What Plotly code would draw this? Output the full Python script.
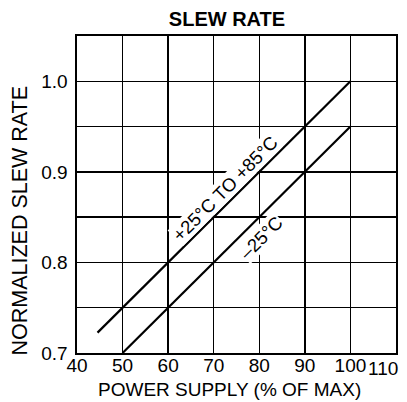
import plotly.graph_objects as go

# Data
supply_25_85 = [44.5, 100]
slew_25_85 = [0.7225, 1.0]
supply_m25 = [50, 100]
slew_m25 = [0.70, 0.95]
x_ticks = [40, 50, 60, 70, 80, 90, 100]
x_last_tick = 110
y_ticks = [0.7, 0.8, 0.9, 1.0]
y_ticklabels = ["0.7", "0.8", "0.9", "1.0"]

FONT = "Liberation Sans, Arial, sans-serif"
TICK_FS = 19
LBL_FS = 18.5

L, R, T, B = 77, 11, 36, 49
W, H = 407, 402
PW, PH = W - L - R, H - T - B


def px_to_paper_x(px):
    return (px - L) / PW


def px_to_paper_y(py):
    return (H - B - py) / PH


fig = go.Figure()
fig.add_trace(go.Scatter(x=supply_25_85, y=slew_25_85, mode="lines",
                         line=dict(color="black", width=2.2), showlegend=False,
                         hoverinfo="skip"))
fig.add_trace(go.Scatter(x=supply_m25, y=slew_m25, mode="lines",
                         line=dict(color="black", width=2.2), showlegend=False,
                         hoverinfo="skip"))

fig.add_annotation(x=72.5, y=0.882, text="+25°C TO +85°C", showarrow=False,
                   textangle=-45, font=dict(family=FONT, size=LBL_FS, color="black"),
                   bgcolor="white", borderpad=0)
fig.add_annotation(x=80.4, y=0.828, text="–25°C", showarrow=False,
                   textangle=-45, font=dict(family=FONT, size=LBL_FS, color="black"),
                   bgcolor="white", borderpad=0)

# last x tick label, pulled inside the canvas as in the reference
fig.add_annotation(x=x_last_tick, xref="x", y=px_to_paper_y(368), yref="paper",
                   text=str(x_last_tick), showarrow=False, xanchor="right",
                   xshift=4, yanchor="middle", font=dict(family=FONT, size=TICK_FS))
# axis titles
fig.add_annotation(x=px_to_paper_x(229), xref="paper", y=px_to_paper_y(389),
                   yref="paper", text="POWER SUPPLY (% OF MAX)", showarrow=False,
                   xanchor="center", yanchor="middle",
                   font=dict(family=FONT, size=19))
fig.add_annotation(x=px_to_paper_x(19.5), xref="paper", y=px_to_paper_y(221),
                   yref="paper", text="NORMALIZED SLEW RATE", showarrow=False,
                   textangle=-90, xanchor="center", yanchor="middle",
                   font=dict(family=FONT, size=21.5))

fig.update_layout(
    width=W, height=H,
    margin=dict(l=L, r=R, t=T, b=B, autoexpand=False),
    paper_bgcolor="white", plot_bgcolor="white",
    font=dict(family=FONT, size=TICK_FS, color="black"),
    hovermode=False,
    title=dict(text="<b>SLEW RATE</b>", xref="paper", x=px_to_paper_x(227),
               xanchor="center", yref="container", y=1 - 19 / H,
               yanchor="middle", font=dict(family=FONT, size=20, color="black")),
)
fig.update_xaxes(range=[40, 110], tickvals=x_ticks, automargin=False,
                 showgrid=True, gridcolor="black", gridwidth=1.3,
                 minor=dict(tickvals=[x_last_tick], showgrid=True,
                            gridcolor="black", gridwidth=1.3),
                 showline=True, linecolor="black", linewidth=1.6, mirror=True,
                 ticks="", zeroline=False, ticklabelstandoff=-5,
                 tickfont=dict(family=FONT, size=TICK_FS))
fig.update_yaxes(range=[0.7, 1.05], tickvals=y_ticks, ticktext=y_ticklabels,
                 automargin=False,
                 showgrid=True, gridcolor="black", gridwidth=1.3,
                 minor=dict(dtick=0.05, tick0=0.7, showgrid=True,
                            gridcolor="black", gridwidth=1.3),
                 showline=True, linecolor="black", linewidth=1.6, mirror=True,
                 ticks="", zeroline=False, ticklabelstandoff=4,
                 tickfont=dict(family=FONT, size=TICK_FS))

fig.write_html("out.html",
               config={"displayModeBar": False, "staticPlot": True},
               post_script="document.body.style.margin='0';"
                           "document.body.style.padding='0';"
                           "document.body.style.overflow='hidden';")
